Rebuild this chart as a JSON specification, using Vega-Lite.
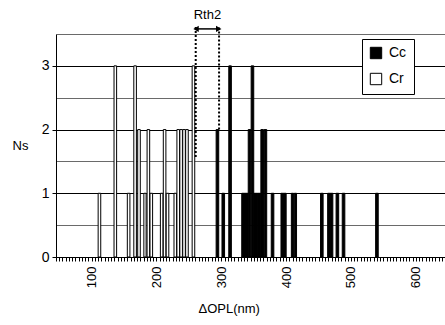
{
  "$schema": "https://vega.github.io/schema/vega-lite/v6.json",
  "width": 389,
  "height": 223,
  "autosize": "none",
  "padding": {"left": 56, "top": 34, "right": 0, "bottom": 68},
  "config": {"font": "Liberation Sans", "view": {"stroke": null}},
  "layer": [
    {
      "data": {"values": [
        {"lo": 110, "hi": 114, "n": 1, "type": "Cr"},
        {"lo": 134.5, "hi": 138.5, "n": 3, "type": "Cr"},
        {"lo": 155, "hi": 159, "n": 1, "type": "Cr"},
        {"lo": 165, "hi": 169, "n": 3, "type": "Cr"},
        {"lo": 171, "hi": 175, "n": 2, "type": "Cr"},
        {"lo": 180.5, "hi": 184, "n": 1, "type": "Cr"},
        {"lo": 185.5, "hi": 189.5, "n": 2, "type": "Cr"},
        {"lo": 190, "hi": 194, "n": 1, "type": "Cr"},
        {"lo": 206, "hi": 210, "n": 1, "type": "Cr"},
        {"lo": 210.5, "hi": 214.5, "n": 2, "type": "Cr"},
        {"lo": 215, "hi": 219, "n": 1, "type": "Cr"},
        {"lo": 227, "hi": 231, "n": 1, "type": "Cr"},
        {"lo": 231.5, "hi": 235.5, "n": 2, "type": "Cr"},
        {"lo": 236, "hi": 240, "n": 2, "type": "Cr"},
        {"lo": 240.5, "hi": 244.5, "n": 2, "type": "Cr"},
        {"lo": 245, "hi": 249, "n": 2, "type": "Cr"},
        {"lo": 255, "hi": 259, "n": 3, "type": "Cr"},
        {"lo": 292, "hi": 296, "n": 2, "type": "Cc"},
        {"lo": 301, "hi": 305, "n": 1, "type": "Cc"},
        {"lo": 311.5, "hi": 315.5, "n": 3, "type": "Cc"},
        {"lo": 331.5, "hi": 336.5, "n": 1, "type": "Cc"},
        {"lo": 336.5, "hi": 341.5, "n": 1, "type": "Cc"},
        {"lo": 341.5, "hi": 345.5, "n": 2, "type": "Cc"},
        {"lo": 346, "hi": 350, "n": 3, "type": "Cc"},
        {"lo": 350, "hi": 355.5, "n": 1, "type": "Cc"},
        {"lo": 355.5, "hi": 361, "n": 1, "type": "Cc"},
        {"lo": 361, "hi": 365, "n": 2, "type": "Cc"},
        {"lo": 366, "hi": 370, "n": 2, "type": "Cc"},
        {"lo": 377, "hi": 381, "n": 1, "type": "Cc"},
        {"lo": 392, "hi": 396, "n": 1, "type": "Cc"},
        {"lo": 396, "hi": 400, "n": 1, "type": "Cc"},
        {"lo": 408, "hi": 411.5, "n": 1, "type": "Cc"},
        {"lo": 412.5, "hi": 416, "n": 1, "type": "Cc"},
        {"lo": 453, "hi": 457, "n": 1, "type": "Cc"},
        {"lo": 464, "hi": 468, "n": 1, "type": "Cc"},
        {"lo": 468, "hi": 472, "n": 1, "type": "Cc"},
        {"lo": 477, "hi": 481, "n": 1, "type": "Cc"},
        {"lo": 486.5, "hi": 490.5, "n": 1, "type": "Cc"},
        {"lo": 538, "hi": 542, "n": 1, "type": "Cc"}
      ]},
      "mark": {"type": "bar", "stroke": "black", "strokeWidth": 1},
      "encoding": {
        "x": {
          "field": "lo", "type": "quantitative",
          "scale": {"domain": [45, 645], "nice": false, "zero": false, "padding": 0},
          "axis": {
            "title": "ΔOPL(nm)", "tickCount": 120,
            "labelExpr": "datum.value % 100 === 0 ? datum.label : ''",
            "labelAngle": -90, "labelAlign": "right", "labelBaseline": "middle",
            "labelFontSize": 13, "labelOverlap": false, "labelPadding": 5, "labelFlush": false,
            "tickSize": 4, "tickColor": "black", "domainColor": "black", "labelColor": "black",
            "grid": false, "titleFontSize": 13, "titleFontWeight": "normal", "titleColor": "black",
            "titleAnchor": "start", "titleAlign": "left", "titleX": 142, "titleY": 51, "titleBaseline": "middle"
          }
        },
        "x2": {"field": "hi"},
        "y": {
          "field": "n", "type": "quantitative",
          "scale": {"domain": [0, 3.5], "nice": false, "padding": 0},
          "axis": {
            "title": "Ns", "tickCount": 7,
            "labelExpr": "datum.value % 1 === 0 ? format(datum.value, 'd') : ''",
            "grid": true,
            "gridColor": {"condition": {"test": "datum.value % 1 !== 0", "value": "#6a6a6a"}, "value": "black"},
            "gridOpacity": 1,
            "tickOpacity": {"condition": {"test": "datum.value % 1 !== 0", "value": 0}, "value": 1},
            "tickSize": 4, "tickColor": "black", "domainColor": "black", "labelColor": "black",
            "labelFontSize": 14, "labelPadding": 3,
            "titleAngle": 0, "titleX": -36, "titleY": 111, "titleAlign": "center", "titleBaseline": "middle",
            "titleFontSize": 13, "titleFontWeight": "normal", "titleColor": "black"
          }
        },
        "y2": {"datum": 0},
        "fill": {
          "field": "type", "type": "nominal",
          "scale": {"domain": ["Cc", "Cr"], "range": ["black", "white"]},
          "legend": {
            "title": null, "orient": "none", "legendX": 306, "legendY": 5,
            "symbolType": "square", "symbolSize": 130, "symbolStrokeColor": "black", "symbolStrokeWidth": 1,
            "labelFontSize": 14, "labelColor": "black", "labelOffset": 6,
            "strokeColor": "black", "fillColor": "white", "padding": 7, "rowPadding": 10
          }
        }
      }
    },
    {
      "data": {"values": [
        {"x": 260.5, "y": 1.57, "y2": 3.62},
        {"x": 296.5, "y": 2.0, "y2": 3.62}
      ]},
      "mark": {"type": "rule", "color": "black", "strokeWidth": 2, "strokeDash": [2, 2], "clip": false},
      "encoding": {
        "x": {"field": "x", "type": "quantitative"},
        "y": {"field": "y", "type": "quantitative"},
        "y2": {"field": "y2"}
      }
    },
    {
      "data": {"values": [{"a": 261, "b": 296, "y": 3.58, "label": "Rth2", "mid": 278.5, "ty": 3.8}]},
      "layer": [
        {
          "mark": {"type": "rule", "color": "black", "strokeWidth": 1.5, "clip": false},
          "encoding": {
            "x": {"field": "a", "type": "quantitative"},
            "x2": {"field": "b"},
            "y": {"field": "y", "type": "quantitative"}
          }
        },
        {
          "mark": {"type": "point", "shape": "triangle-left", "filled": true, "color": "black", "size": 40, "opacity": 1, "clip": false},
          "encoding": {
            "x": {"field": "a", "type": "quantitative"},
            "y": {"field": "y", "type": "quantitative"}
          }
        },
        {
          "mark": {"type": "point", "shape": "triangle-right", "filled": true, "color": "black", "size": 40, "opacity": 1, "clip": false},
          "encoding": {
            "x": {"field": "b", "type": "quantitative"},
            "y": {"field": "y", "type": "quantitative"}
          }
        },
        {
          "mark": {"type": "text", "fontSize": 13, "color": "black", "baseline": "middle", "align": "center", "clip": false},
          "encoding": {
            "x": {"field": "mid", "type": "quantitative"},
            "y": {"field": "ty", "type": "quantitative"},
            "text": {"field": "label"}
          }
        }
      ]
    }
  ]
}
